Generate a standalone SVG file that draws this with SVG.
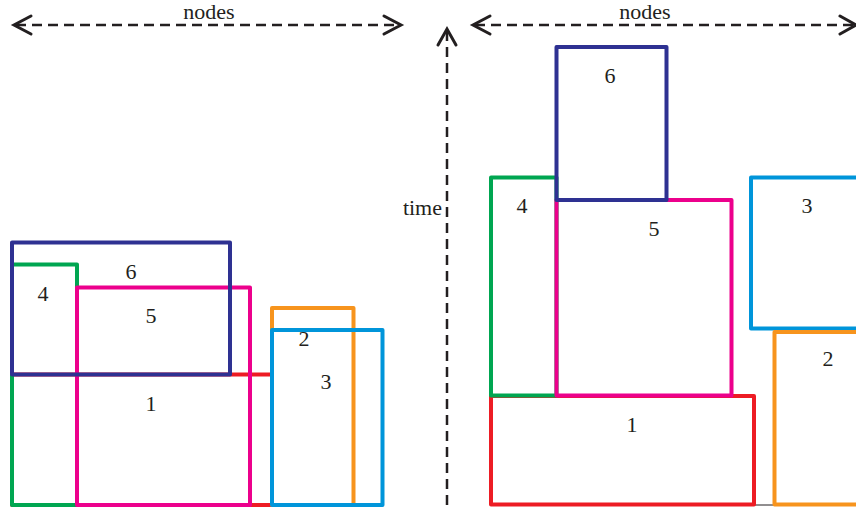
<svg xmlns="http://www.w3.org/2000/svg" width="856" height="512" viewBox="0 0 856 512">
<style>
.box{fill:none;stroke-width:4;stroke-linejoin:round}
.ax{fill:none;stroke:#231f20;stroke-width:2.5;stroke-dasharray:10 6}
.hd{fill:none;stroke:#231f20;stroke-width:3;stroke-linecap:round;stroke-linejoin:miter}
.red{stroke:#ED1C24}.grn{stroke:#00A651}.pnk{stroke:#EC008C}.nav{stroke:#2E3192}.org{stroke:#F7941D}.cyn{stroke:#0095DA}
</style>
<rect width="856" height="512" fill="#fff"/>
<g id="axes" font-family="Liberation Serif, Times New Roman, serif" font-size="22" fill="#231f20" text-anchor="middle">
<line class="ax" x1="16" y1="25" x2="399" y2="25"/>
<polyline class="hd" points="31,16 14,25 31,34"/>
<polyline class="hd" points="384,16 401,25 384,34"/>
<text x="209" y="19">nodes</text>
<line class="ax" x1="475" y1="25" x2="856" y2="25"/>
<polyline class="hd" points="490,16 473,25 490,34"/>
<polyline class="hd" points="840,16 856,25 840,34"/>
<text x="645" y="19">nodes</text>
<line class="ax" x1="447" y1="505" x2="447" y2="32"/>
<polyline class="hd" points="438,45 447,29 456,45"/>
<text x="442" y="215" text-anchor="end">time</text>
</g>
<g id="left" font-family="Liberation Serif, Times New Roman, serif" font-size="22" fill="#231f20" text-anchor="middle">
<g id="L1"><rect class="box red" x="12" y="374.5" width="260" height="130.5"/></g>
<g id="L4"><rect class="box grn" x="12" y="264.5" width="65" height="240.5"/></g>
<g id="L5"><rect class="box pnk" x="77" y="287.5" width="173" height="217.5"/></g>
<g id="L6"><rect class="box nav" x="12" y="242.5" width="218" height="132"/></g>
<g id="L2"><rect class="box org" x="272" y="308" width="81.5" height="197"/></g>
<g id="L3"><rect class="box cyn" x="272" y="330" width="110.5" height="175"/></g>
<text x="131" y="279">6</text>
<text x="43" y="301">4</text>
<text x="151" y="323">5</text>
<text x="304" y="346">2</text>
<text x="326" y="389">3</text>
<text x="151" y="411">1</text>
</g>
<g id="right" font-family="Liberation Serif, Times New Roman, serif" font-size="22" fill="#231f20" text-anchor="middle">
<line x1="754" y1="505" x2="774" y2="505" stroke="#231f20" stroke-width="1"/>
<g id="R1"><rect class="box red" x="491" y="396" width="263" height="108.5"/></g>
<g id="R4"><rect class="box grn" x="491" y="177.5" width="65.5" height="218"/></g>
<g id="R5"><rect class="box pnk" x="556.5" y="200" width="175" height="195.5"/></g>
<g id="R6"><rect class="box nav" x="556.5" y="47" width="110" height="153"/></g>
<g id="R3"><rect class="box cyn" x="751" y="177.5" width="120" height="151"/></g>
<g id="R2"><rect class="box org" x="774.5" y="332" width="100" height="172.5"/></g>
<text x="610" y="83">6</text>
<text x="522" y="213">4</text>
<text x="654" y="236">5</text>
<text x="807" y="213">3</text>
<text x="828" y="366">2</text>
<text x="632" y="432">1</text>
</g>
</svg>
